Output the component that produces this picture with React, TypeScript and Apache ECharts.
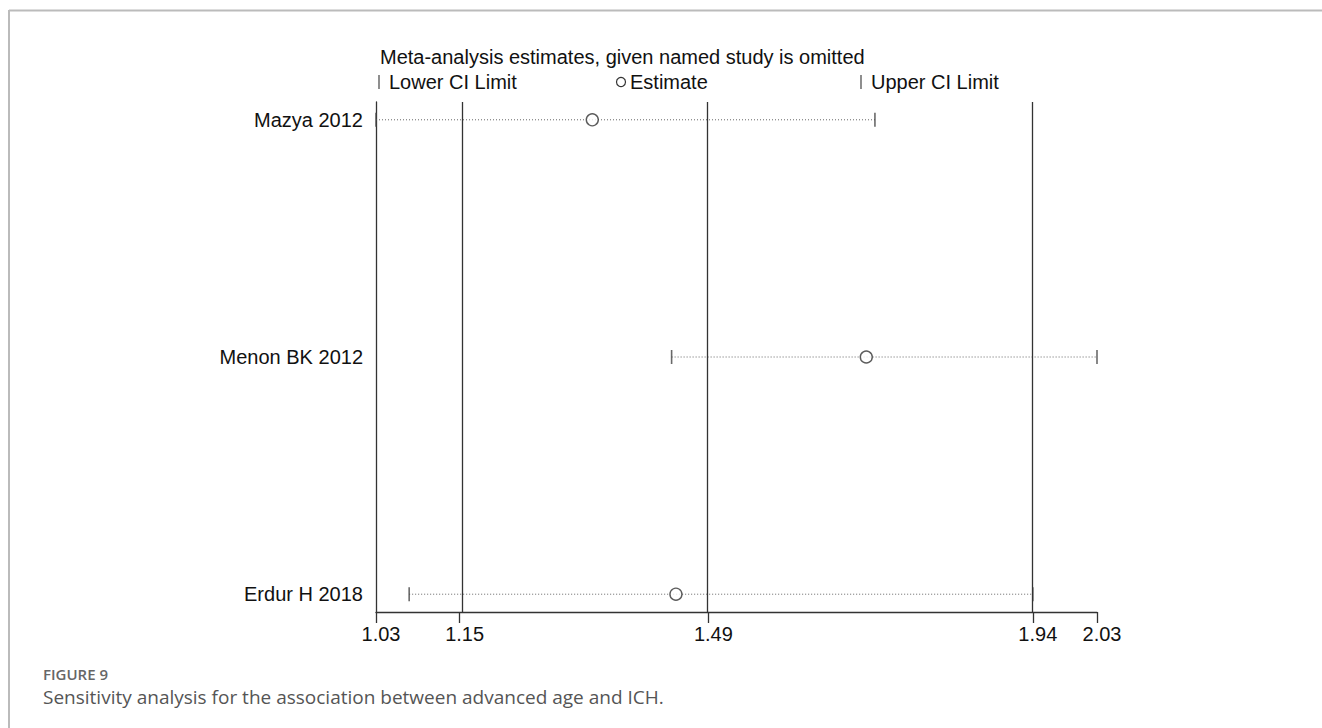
import React, { useEffect, useRef } from "react";
import * as echarts from "echarts";

// Studies (top to bottom) with the meta-analysis estimate when that study is omitted
const studies = ["Mazya 2012", "Menon BK 2012", "Erdur H 2018"];
const lowerCI = [1.03, 1.44, 1.076];
const estimate = [1.33, 1.71, 1.446];
const upperCI = [1.722, 2.03, 1.941];
// row positions on the y value axis (top row highest)
const rowPos = [3, 2, 1];

// x-axis ticks and their labels
const xTicks = [1.03, 1.146, 1.491, 1.941, 2.03];
const xTickLabels = ["1.03", "1.15", "1.49", "1.94", "2.03"];
// reference lines (overall lower CI, estimate, upper CI)
const refLines = [1.146, 1.491, 1.941];

const FONT = '"Liberation Sans", Arial, Helvetica, sans-serif';
const CAPTION_FONT = '"Open Sans", "Noto Sans", sans-serif';

export default function App() {
  const ref = useRef<HTMLDivElement>(null);

  useEffect(() => {
    if (!ref.current) return;
    const chart = echarts.init(ref.current, null, { renderer: "svg" });

    const ciSeries = studies.map((name, i) => ({
      type: "line",
      name,
      data: [
        [lowerCI[i], rowPos[i]],
        [upperCI[i], rowPos[i]],
      ],
      showSymbol: false,
      symbol: "none",
      silent: true,
      lineStyle: { color: "#666", width: 1, type: [1, 2] },
      z: 2,
    }));

    const option: any = {
      animation: false,
      backgroundColor: "#ffffff",
      grid: { left: 376, right: 225, top: 102, bottom: 116, containLabel: false },
      xAxis: {
        type: "value",
        min: 1.03,
        max: 2.03,
        axisLine: { show: true, lineStyle: { color: "#333", width: 1.3 } },
        axisTick: {
          show: true,
          customValues: xTicks,
          length: 11,
          lineStyle: { color: "#333", width: 1.3 },
        },
        axisLabel: {
          customValues: xTicks,
          formatter: (v: number) => {
            const idx = xTicks.findIndex((t) => Math.abs(t - v) < 1e-6);
            return idx >= 0 ? xTickLabels[idx] : "";
          },
          fontFamily: FONT,
          fontSize: 20,
          color: "#111",
          margin: 12,
          padding: [0, 0, 0, 10],
        },
        splitLine: { show: false },
      },
      yAxis: {
        type: "value",
        min: 0.925,
        max: 3.075,
        axisLine: { show: true, lineStyle: { color: "#333", width: 1.3 } },
        axisTick: { show: false },
        splitLine: { show: false },
        axisLabel: {
          customValues: rowPos,
          formatter: (v: number) => {
            const idx = rowPos.findIndex((r) => Math.abs(r - v) < 1e-6);
            return idx >= 0 ? studies[idx] : "";
          },
          fontFamily: FONT,
          fontSize: 20,
          color: "#111",
          margin: 13,
        },
      },
      series: [
        ...ciSeries,
        {
          type: "scatter",
          name: "refs",
          data: [],
          silent: true,
          markLine: {
            silent: true,
            symbol: "none",
            label: { show: false },
            lineStyle: { color: "#333", width: 1.3, type: "solid" },
            data: refLines.map((v) => ({ xAxis: v })),
          },
        },
        {
          type: "scatter",
          name: "lower",
          data: lowerCI.map((v, i) => [v, rowPos[i]]),
          symbol: "rect",
          symbolSize: [1.6, 14],
          itemStyle: { color: "#444" },
          silent: true,
          z: 4,
        },
        {
          type: "scatter",
          name: "upper",
          data: upperCI.map((v, i) => [v, rowPos[i]]),
          symbol: "rect",
          symbolSize: [1.6, 14],
          itemStyle: { color: "#444" },
          silent: true,
          z: 4,
        },
        {
          type: "scatter",
          name: "estimate",
          data: estimate.map((v, i) => [v, rowPos[i]]),
          symbol: "circle",
          symbolSize: 12,
          itemStyle: { color: "#fff", borderColor: "#333", borderWidth: 1.4 },
          silent: true,
          z: 5,
        },
      ],
      graphic: [
        // figure frame (top and left)
        { type: "line", shape: { x1: 9, y1: 10.5, x2: 1322, y2: 10.5 }, style: { stroke: "#bbb", lineWidth: 2 } },
        { type: "line", shape: { x1: 9, y1: 10, x2: 9, y2: 728 }, style: { stroke: "#bbb", lineWidth: 2 } },
        // title
        {
          type: "text",
          x: 380,
          y: 57,
          style: {
            text: "Meta-analysis estimates, given named study is omitted",
            font: `20px ${FONT}`,
            fill: "#111",
            verticalAlign: "middle",
          },
        },
        // legend
        { type: "line", shape: { x1: 379, y1: 75, x2: 379, y2: 89 }, style: { stroke: "#444", lineWidth: 1.2 } },
        {
          type: "text",
          x: 389,
          y: 82,
          style: { text: "Lower CI Limit", font: `20px ${FONT}`, fill: "#111", verticalAlign: "middle" },
        },
        { type: "circle", shape: { cx: 621, cy: 82, r: 4.5 }, style: { stroke: "#333", fill: "none", lineWidth: 1.2 } },
        {
          type: "text",
          x: 630,
          y: 82,
          style: { text: "Estimate", font: `20px ${FONT}`, fill: "#111", verticalAlign: "middle" },
        },
        { type: "line", shape: { x1: 861, y1: 75, x2: 861, y2: 89 }, style: { stroke: "#444", lineWidth: 1.2 } },
        {
          type: "text",
          x: 871,
          y: 82,
          style: { text: "Upper CI Limit", font: `20px ${FONT}`, fill: "#111", verticalAlign: "middle" },
        },
        // caption
        {
          type: "text",
          x: 43,
          y: 674,
          style: { text: "FIGURE 9", font: `600 15px ${CAPTION_FONT}`, fill: "#666", verticalAlign: "middle" },
        },
        {
          type: "text",
          x: 43,
          y: 697,
          style: {
            text: "Sensitivity analysis for the association between advanced age and ICH.",
            font: `19px ${CAPTION_FONT}`,
            fill: "#555",
            verticalAlign: "middle",
          },
        },
      ],
    };

    chart.setOption(option);
    return () => chart.dispose();
  }, []);

  return (
    <div
      ref={ref}
      style={{ position: "absolute", left: 0, top: 0, width: 1322, height: 728 }}
    />
  );
}
